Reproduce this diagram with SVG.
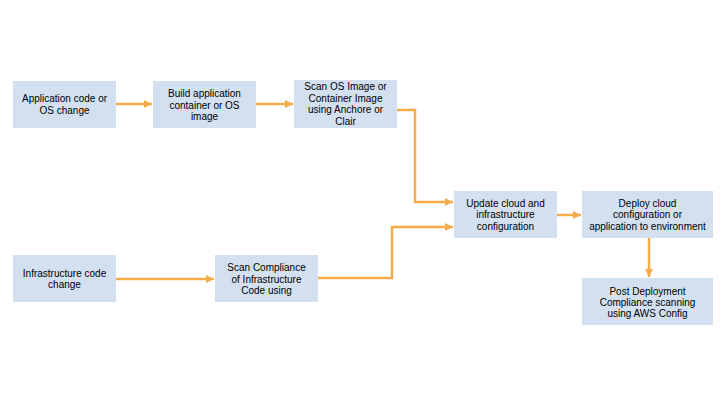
<svg xmlns="http://www.w3.org/2000/svg" width="720" height="405" viewBox="0 0 720 405">
<defs>
<style>
.box{fill:#d3e0f0;}
.t{font-family:"Liberation Sans",Arial,sans-serif;font-size:10px;fill:#000;text-anchor:middle;}
.c{fill:none;stroke:#f4ab4a;stroke-width:2.5;}
</style>
<marker id="ah" markerWidth="8" markerHeight="8" refX="8" refY="4" orient="auto" markerUnits="userSpaceOnUse">
<path d="M0,0 L8,4 L0,8 Z" fill="#f4ab4a"/>
</marker>
</defs>
<rect width="720" height="405" fill="#ffffff"/>
<g id="connectors">
<path class="c" d="M116,104 H152" marker-end="url(#ah)"/>
<path class="c" d="M256,104 H293" marker-end="url(#ah)"/>
<path class="c" d="M397,110 H415 V202 H453" marker-end="url(#ah)"/>
<path class="c" d="M116,279 H214" marker-end="url(#ah)"/>
<path class="c" d="M318,278 H392 V227 H453" marker-end="url(#ah)"/>
<path class="c" d="M557,215 H581" marker-end="url(#ah)"/>
<path class="c" d="M649,238 V277" marker-end="url(#ah)"/>
</g>
<g id="n1">
<rect class="box" x="13" y="81" width="103" height="47"/>
<text class="t" x="64.5" y="102">Application code or</text>
<text class="t" x="64.5" y="114">OS change</text>
</g>
<g id="n2">
<rect class="box" x="153" y="81" width="103" height="47"/>
<text class="t" x="204.5" y="97">Build application</text>
<text class="t" x="204.5" y="108.5">container or OS</text>
<text class="t" x="204.5" y="120">image</text>
</g>
<g id="n3">
<rect class="box" x="294" y="80" width="103" height="48"/>
<text class="t" x="345.5" y="90">Scan OS Image or</text>
<text class="t" x="345.5" y="101.5">Container Image</text>
<text class="t" x="345.5" y="113">using Anchore or</text>
<text class="t" x="345.5" y="124.5">Clair</text>
</g>
<g id="n4">
<rect class="box" x="13" y="255" width="103" height="47"/>
<text class="t" x="64.5" y="276.5">Infrastructure code</text>
<text class="t" x="64.5" y="288">change</text>
</g>
<g id="n5">
<rect class="box" x="215" y="255" width="103" height="47"/>
<text class="t" x="266.5" y="271">Scan Compliance</text>
<text class="t" x="266.5" y="282.5">of Infrastructure</text>
<text class="t" x="266.5" y="294">Code using</text>
</g>
<g id="n6">
<rect class="box" x="454" y="191" width="103" height="47"/>
<text class="t" x="505.5" y="206.5">Update cloud and</text>
<text class="t" x="505.5" y="218">infrastructure</text>
<text class="t" x="505.5" y="229.5">configuration</text>
</g>
<g id="n7">
<rect class="box" x="582" y="191" width="131" height="47"/>
<text class="t" x="647.5" y="206.5">Deploy cloud</text>
<text class="t" x="647.5" y="218">configuration or</text>
<text class="t" x="647.5" y="229.5">application to environment</text>
</g>
<g id="n8">
<rect class="box" x="582" y="278" width="131" height="47"/>
<text class="t" x="647.5" y="295">Post Deployment</text>
<text class="t" x="647.5" y="306">Compliance scanning</text>
<text class="t" x="647.5" y="317">using AWS Config</text>
</g>
</svg>
